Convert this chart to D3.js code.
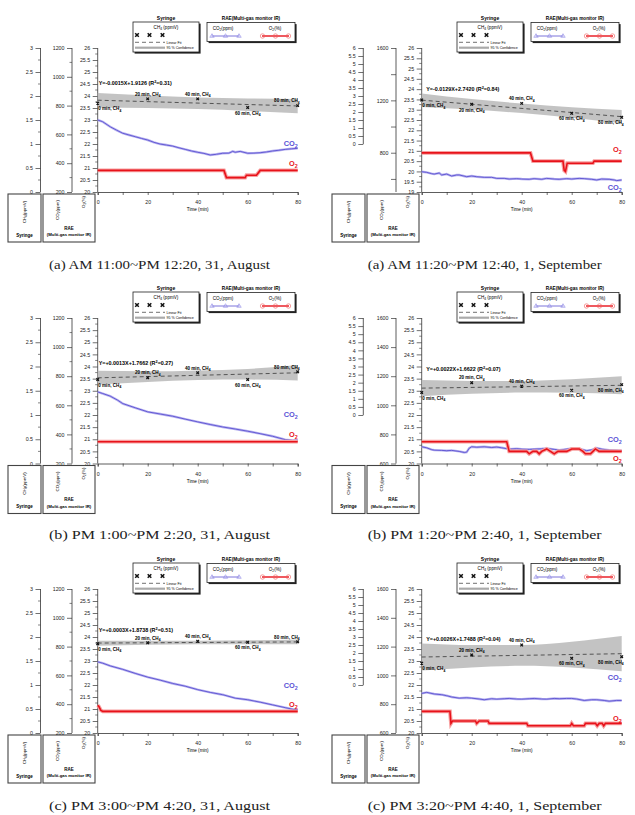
<!DOCTYPE html>
<html><head><meta charset="utf-8">
<script src="https://cdn.jsdelivr.net/npm/d3@7"></script>
<style>body{margin:0;background:#fff}svg{display:block}</style>
</head><body>
<svg id="chart" width="635" height="815"></svg>
<script>
// ---------------- DATA ----------------
const panelIds = ["a_aug","a_sep","b_aug","b_sep","c_aug","c_sep"];
const captions = [
  "(a) AM 11:00~PM 12:20, 31, August",
  "(a) AM 11:20~PM 12:40, 1, September",
  "(b) PM 1:00~PM 2:20, 31, August",
  "(b) PM 1:20~PM 2:40, 1, September",
  "(c) PM 3:00~PM 4:20, 31, August",
  "(c) PM 3:20~PM 4:40, 1, September"
];
const timeDomain = [0, 80];
const timeTicks = [0,10,20,30,40,50,60,70,80];
const timeTickLabels = [0,20,40,60,80];

const ch4Times = [0,20,40,60,80];
const ch4_a_aug = [1.85, 1.94, 1.94, 1.76, 1.80];
const ch4_a_sep = [2.75, 2.48, 2.54, 1.92, 1.67];
const ch4_b_aug = [1.73, 1.77, 1.87, 1.73, 1.89];
const ch4_b_sep = [1.39, 2.00, 1.78, 1.53, 1.88];
const ch4_c_aug = [1.86, 1.88, 1.91, 1.89, 1.90];
const ch4_c_sep = [1.36, 1.88, 2.50, 1.67, 1.77];
const ch4Values = [ch4_a_aug, ch4_a_sep, ch4_b_aug, ch4_b_sep, ch4_c_aug, ch4_c_sep];

const fitSlope = [-0.0015, -0.0129, 0.0013, 0.0022, 0.0003, 0.0026];
const fitIntercept = [1.9126, 2.7420, 1.7662, 1.6622, 1.8738, 1.7488];
const fitLabels = ["Y=-0.0015X+1.9126","Y=-0.0129X+2.7420","Y=+0.0013X+1.7662","Y=+0.0022X+1.6622","Y=+0.0003X+1.8738","Y=+0.0026X+1.7488"];
const fitR2 = ["0.31","0.84","0.27","0.07","0.51","0.04"];

// 95% confidence band (CH4 units) at ch4Times
const bandUpper = [
  [2.06, 2.01, 1.97, 1.95, 1.94],
  [3.16, 2.81, 2.53, 2.30, 2.13],
  [1.91, 1.90, 1.92, 1.95, 2.03],
  [2.16, 2.11, 2.11, 2.21, 2.39],
  [1.92, 1.92, 1.92, 1.93, 1.95],
  [2.60, 2.50, 2.50, 2.70, 3.06]
];
const bandLower = [
  [1.76, 1.75, 1.73, 1.69, 1.64],
  [2.32, 2.15, 1.93, 1.64, 1.29],
  [1.63, 1.68, 1.72, 1.73, 1.71],
  [1.16, 1.31, 1.39, 1.37, 1.29],
  [1.82, 1.84, 1.85, 1.85, 1.85],
  [0.90, 1.10, 1.20, 1.10, 0.86]
];

// CO2 (ppm) [time, value]
const co2_a_aug = [[0,700],[2,688],[5,653],[7.5,630],[10,608],[12.5,596],[15,584],[17.5,572],[20,561],[22.5,545],[25,533],[27.5,526],[30,519],[32.5,507],[35,496],[37.5,485],[40,476],[42.5,468],[45,457],[47.5,462],[50,469],[52.5,470],[54,482],[55,476],[57,482],[60,469],[62.5,470],[65,473],[67.5,478],[70,485],[72.5,490],[75,496],[77.5,500],[80,503]];
const co2_a_sep = [[0,655],[2,650],[4,640],[5,637],[7,645],[8,630],[10,637],[12,622],[14,630],[15,630],[18,617],[20,622],[22,617],[25,612],[28,612],[30,604],[33,604],[35,599],[38,602],[40,599],[43,597],[45,602],[48,597],[50,604],[53,599],[55,597],[58,602],[60,599],[63,604],[65,602],[68,597],[70,592],[72,599],[75,597],[77,592],[78,587],[80,592]];
const co2_b_aug = [[0,692],[2,681],[5,663],[8,635],[10,612],[15,583],[20,555],[25,540],[30,525],[35,505],[40,486],[45,468],[50,451],[55,437],[60,422],[65,405],[70,387],[75,364],[78,358],[80,360]];
const co2_b_sep = [[0,715],[2,708],[4,695],[5,692],[8,690],[10,688],[12,690],[15,683],[17,676],[18,678],[19,705],[20,715],[22,712],[25,715],[28,710],[30,713],[32,708],[35,699],[38,702],[40,699],[43,697],[45,699],[48,701],[50,704],[53,697],[55,692],[58,699],[60,704],[62,702],[64,697],[66,688],[68,694],[70,706],[72,699],[75,692],[78,690],[80,688]];
const co2_c_aug = [[0,694],[2,685],[5,666],[10,642],[15,614],[20,588],[25,567],[30,544],[35,525],[40,501],[45,482],[50,466],[55,442],[60,431],[65,414],[70,395],[75,376],[78,365],[80,362]];
const co2_c_sep = [[0,875],[2,882],[5,871],[8,866],[10,859],[12,850],[15,842],[18,845],[20,842],[23,836],[25,831],[28,838],[30,835],[33,838],[35,840],[38,836],[40,835],[43,838],[45,840],[48,836],[50,835],[53,840],[55,838],[58,840],[60,840],[62,836],[65,826],[68,831],[70,831],[73,826],[75,821],[78,826],[80,826]];
const co2Series = [co2_a_aug, co2_a_sep, co2_b_aug, co2_b_sep, co2_c_aug, co2_c_sep];

// O2 (%) [time, value]
const o2_a_aug = [[0,20.9],[50.5,20.9],[51.5,20.6],[59,20.6],[59.5,20.7],[63.5,20.7],[65,20.9],[80,20.9]];
const o2_a_sep = [[0,20.9],[43.5,20.9],[44.5,20.5],[56.5,20.5],[57,20.05],[57.5,20.0],[58.2,20.4],[68.5,20.4],[69,20.5],[80,20.5]];
const o2_b_aug = [[0,20.9],[80,20.9]];
const o2_b_sep = [[0,20.9],[34,20.9],[35,20.5],[42,20.5],[43,20.4],[44.5,20.5],[46,20.5],[47,20.4],[48,20.5],[50,20.6],[51.5,20.5],[53,20.4],[54.5,20.5],[58,20.5],[60,20.6],[63,20.6],[64.5,20.5],[65.5,20.4],[67.5,20.4],[68.5,20.5],[69.5,20.6],[71,20.5],[80,20.5]];
const o2_c_aug = [[0,21.15],[0.5,21.1],[1.2,20.95],[2,20.9],[80,20.9]];
const o2_c_sep = [[0,20.9],[11.3,20.9],[11.7,20.4],[12.3,20.5],[21.5,20.5],[22,20.4],[23,20.5],[26.5,20.5],[27,20.4],[42,20.4],[42.5,20.3],[59.5,20.3],[60,20.4],[60.7,20.3],[65,20.3],[65.5,20.4],[69.5,20.4],[70.2,20.3],[71,20.4],[72.2,20.4],[72.8,20.3],[73.5,20.4],[80,20.4]];
const o2Series = [o2_a_aug, o2_a_sep, o2_b_aug, o2_b_sep, o2_c_aug, o2_c_sep];

// axis domains and tick labels
const ch4Domain = [[0,3],[-3,6]];
const ch4Ticks = [[0,0.5,1,1.5,2,2.5,3],[0,0.5,1,1.5,2,2.5,3,3.5,4,4.5,5,5.5,6]];
const ch4Minor = [[0.25,0.75,1.25,1.75,2.25,2.75],[]];
const co2Domain = [[200,1200],[500,1600],[200,1200],[600,1600],[200,1200],[600,1600]];
const co2Ticks = [[200,400,600,800,1000,1200],[600,800,1000,1200,1400,1600],[200,400,600,800,1000,1200],[600,800,1000,1200,1400,1600],[200,400,600,800,1000,1200],[600,800,1000,1200,1400,1600]];
const co2TickLabels = [[200,400,600,800,1000,1200],[800,1200,1600],[200,400,600,800,1000,1200],[600,800,1000,1200,1400,1600],[200,400,600,800,1000,1200],[600,800,1000,1200,1400,1600]];
const co2Minor = [[300,500,700,900,1100],[],[300,500,700,900,1100],[],[300,500,700,900,1100],[]];
const o2Domain = [[20,26],[19,26],[20,26],[20,26],[20,26],[20,26]];
const o2Ticks = [
  [20,20.5,21,21.5,22,22.5,23,23.5,24,24.5,25,25.5,26],
  [19,19.5,20,20.5,21,21.5,22,22.5,23,23.5,24,24.5,25,25.5,26],
  [20,20.5,21,21.5,22,22.5,23,23.5,24,24.5,25,25.5,26],
  [20,20.5,21,21.5,22,22.5,23,23.5,24,24.5,25,25.5,26],
  [20,20.5,21,21.5,22,22.5,23,23.5,24,24.5,25,25.5,26],
  [20,20.5,21,21.5,22,22.5,23,23.5,24,24.5,25,25.5,26]
];

// ---------------- LAYOUT ----------------
const FONT = "'Liberation Sans', Arial, Helvetica, sans-serif";
const rowOffsets = [0, 270, 541];
const rowHeights = [144, 145.5, 144];
const colOffsets = [0, 324];
const ch4LabelSide = [["b","a","a","b","a"],["b","b","a","b","b"],["b","a","a","b","a"],["b","a","a","b","b"],["b","a","a","b","a"],["b","a","a","b","b"]];
const regLabelDy = [37, 43, 47, 53, 43, 52];
const co2LabelDy = [98, 142, 99, 124, 99, 91];
const o2LabelDy = [118, 103.5, 119, 142.5, 117.5, 132];
const captionWidth = [221, 234];

const BLUE = "#5a50d0", BLUE_H = "#b9b4f0", RED = "#e8121a", RED_H = "#f7a0a0";

const svg = d3.select("#chart");

function rich(parent, x, y, segs, fs, attrs) {
  const t = parent.append("text").attr("x", x).attr("y", y)
    .attr("font-size", fs).attr("font-family", FONT);
  Object.entries(attrs || {}).forEach(([k, v]) => t.attr(k, v));
  let cur = 0;
  segs.forEach(s => {
    const [str, mode] = Array.isArray(s) ? s : [s, null];
    const target = mode === "sub" ? fs * 0.3 : mode === "sup" ? -fs * 0.4 : 0;
    const ts = t.append("tspan").text(str).attr("font-size", mode ? fs * 0.72 : fs);
    if (target !== cur) ts.attr("dy", target - cur);
    cur = target;
  });
  return t;
}

function yAxis(g, scale, xPos, ticks, labels, minor, from, to) {
  const ax = g.append("g").attr("transform", `translate(${xPos},0)`);
  ax.call(d3.axisLeft(scale).tickValues(ticks).tickSize(5).tickPadding(2.5)
    .tickFormat(d => labels.includes(d) ? String(d) : ""));
  ax.select(".domain").remove();
  ax.selectAll(".tick line").attr("stroke", "#333").attr("stroke-width", 0.7);
  ax.selectAll(".tick text").attr("font-size", 5.3).attr("font-family", FONT).attr("fill", "#222");
  ax.selectAll("line.minor").data(minor).enter().append("line").attr("class", "minor")
    .attr("x1", -2.5).attr("x2", 0).attr("y1", d => scale(d)).attr("y2", d => scale(d))
    .attr("stroke", "#333").attr("stroke-width", 0.6);
  ax.append("line").attr("x1", 0).attr("x2", 0).attr("y1", scale(from)).attr("y2", scale(to))
    .attr("stroke", "#333").attr("stroke-width", 0.8);
}

function crossPath(cx, cy, r) {
  return `M${cx - r},${cy - r}L${cx + r},${cy + r}M${cx - r},${cy + r}L${cx + r},${cy - r}`;
}

function legend(g, ox, oy) {
  const sx = 133 + ox, sy = 22 + oy, sw = 66, sh = 30;
  g.append("text").attr("x", sx + sw / 2).attr("y", sy - 2.3).attr("text-anchor", "middle")
    .attr("font-size", 5).attr("font-weight", "bold").attr("font-family", FONT).text("Syringe");
  g.append("rect").attr("x", sx + 1.6).attr("y", sy + 1.6).attr("width", sw).attr("height", sh).attr("fill", "#222");
  g.append("rect").attr("x", sx).attr("y", sy).attr("width", sw).attr("height", sh)
    .attr("fill", "#fff").attr("stroke", "#222").attr("stroke-width", 0.8);
  rich(g, sx + sw / 2, sy + 6.5, ["CH", ["4", "sub"], " (ppmV)"], 4.6, {"text-anchor": "middle"});
  [sx + 4, sx + 16.5, sx + 29.5].forEach(cx => g.append("path").attr("d", crossPath(cx, sy + 13, 1.8))
    .attr("stroke", "#111").attr("stroke-width", 1.5));
  g.append("line").attr("x1", sx + 2).attr("x2", sx + 32).attr("y1", sy + 20.3).attr("y2", sy + 20.3)
    .attr("stroke", "#333").attr("stroke-width", 0.7).attr("stroke-dasharray", "4,3");
  g.append("text").attr("x", sx + 33.5).attr("y", sy + 21.6).attr("font-size", 3.6).attr("font-family", FONT).text("Linear Fit");
  g.append("line").attr("x1", sx + 2).attr("x2", sx + 32).attr("y1", sy + 25.7).attr("y2", sy + 25.7)
    .attr("stroke", "#aaa").attr("stroke-width", 2.2);
  g.append("text").attr("x", sx + 33.5).attr("y", sy + 27).attr("font-size", 3.6).attr("font-family", FONT).text("95 % Confidence");

  const rx = 207 + ox, ry = 22.5 + oy, rw = 88, rh = 19;
  g.append("text").attr("x", rx + rw / 2).attr("y", ry - 2.8).attr("text-anchor", "middle")
    .attr("font-size", 4.7).attr("font-weight", "bold").attr("font-family", FONT).text("RAE(Multi-gas monitor IR)");
  g.append("rect").attr("x", rx + 1.6).attr("y", ry + 1.6).attr("width", rw).attr("height", rh).attr("fill", "#222");
  g.append("rect").attr("x", rx).attr("y", ry).attr("width", rw).attr("height", rh)
    .attr("fill", "#fff").attr("stroke", "#222").attr("stroke-width", 0.8);
  rich(g, rx + 16, ry + 7, ["CO", ["2", "sub"], "(ppm)"], 4.6, {"text-anchor": "middle"});
  g.append("line").attr("x1", rx + 4.5).attr("x2", rx + 32.5).attr("y1", ry + 13.5).attr("y2", ry + 13.5)
    .attr("stroke", BLUE).attr("stroke-width", 0.8);
  [rx + 5, rx + 18.5, rx + 32].forEach(cx => g.append("path")
    .attr("d", `M${cx},${ry + 11.2}L${cx + 2.2},${ry + 14.8}L${cx - 2.2},${ry + 14.8}Z`)
    .attr("fill", "none").attr("stroke", "#8d86e6").attr("stroke-width", 0.6));
  rich(g, rx + 68, ry + 7, ["O", ["2", "sub"], "(%)"], 4.6, {"text-anchor": "middle"});
  g.append("line").attr("x1", rx + 55).attr("x2", rx + 82).attr("y1", ry + 13.5).attr("y2", ry + 13.5)
    .attr("stroke", RED).attr("stroke-width", 1.4);
  [rx + 55.5, rx + 68.5, rx + 81.5].forEach(cx => g.append("circle").attr("cx", cx).attr("cy", ry + 13.5).attr("r", 2.2)
    .attr("fill", "none").attr("stroke", "#f05a5a").attr("stroke-width", 0.6));
}

function bottomBoxes(g, ox, yB) {
  const y = yB + 2, h = 48;
  [[8, 33], [43, 52]].forEach(([bx, bw]) => g.append("rect").attr("x", bx + ox).attr("y", y).attr("width", bw).attr("height", h)
    .attr("fill", "none").attr("stroke", "#444").attr("stroke-width", 1.1));
  const rot = (cx, cy, segs) => {
    const gg = g.append("g").attr("transform", `translate(${cx},${cy}) rotate(-90)`);
    rich(gg, 0, 1.5, segs, 4.4, {"text-anchor": "middle"});
  };
  rot(24.5 + ox, y + 18, ["CH", ["4", "sub"], "(ppmV)"]);
  rot(57.3 + ox, y + 16, ["CO", ["2", "sub"], "(ppm)"]);
  rot(83 + ox, y + 8, ["O", ["2", "sub"], "(%)"]);
  g.append("text").attr("x", 24.5 + ox).attr("y", y + 42.5).attr("text-anchor", "middle").attr("font-size", 4.5)
    .attr("font-weight", "bold").attr("font-family", FONT).text("Syringe");
  g.append("text").attr("x", 69 + ox).attr("y", y + 35.8).attr("text-anchor", "middle").attr("font-size", 4.5)
    .attr("font-weight", "bold").attr("font-family", FONT).text("RAE");
  g.append("text").attr("x", 69 + ox).attr("y", y + 42.2).attr("text-anchor", "middle").attr("font-size", 4.3)
    .attr("font-weight", "bold").attr("font-family", FONT).text("(Multi-gas monitor IR)");
}

panelIds.forEach((id, i) => {
  const row = Math.floor(i / 2), col = i % 2;
  const ox = colOffsets[col], oy = rowOffsets[row];
  const yTop = 48 + oy, yBot = yTop + rowHeights[row];
  const x0 = 97.7 + ox, x1 = x0 + 200;
  const g = svg.append("g").attr("class", "panel-" + id);

  const x = d3.scaleLinear().domain(timeDomain).range([x0, x1]);
  const yCH4 = d3.scaleLinear().domain(ch4Domain[col]).range([yBot, yTop]);
  const yCO2 = d3.scaleLinear().domain(co2Domain[i]).range([yBot, yTop]);
  const yO2 = d3.scaleLinear().domain(o2Domain[i]).range([yBot, yTop]);

  legend(g, ox, oy);

  // axes
  yAxis(g, yCH4, 40.5 + ox - (col ? 1.2 : 0), ch4Ticks[col], ch4Ticks[col], ch4Minor[col], 0, ch4Domain[col][1]);
  yAxis(g, yCO2, 72 + ox, co2Ticks[i], co2TickLabels[i], co2Minor[i], co2Domain[i][0], co2Domain[i][1]);
  const o2t = o2Ticks[i];
  const o2Minor = o2t.slice(1).map((d, k) => (d + o2t[k]) / 2);
  yAxis(g, yO2, x0, o2t, o2t, o2Minor, o2Domain[i][0], o2Domain[i][1]);

  const xa = g.append("g").attr("transform", `translate(0,${yBot})`);
  xa.call(d3.axisBottom(x).tickValues(timeTicks).tickSize(3).tickPadding(5.5)
    .tickFormat(d => timeTickLabels.includes(d) ? String(d) : ""));
  xa.select(".domain").attr("stroke", "#333").attr("stroke-width", 0.8);
  xa.selectAll(".tick line").attr("stroke", "#333").attr("stroke-width", 0.7);
  xa.selectAll(".tick text").attr("font-size", 5.2).attr("font-family", FONT).attr("fill", "#222");
  g.append("text").attr("x", (x0 + x1) / 2).attr("y", yBot + 19).attr("text-anchor", "middle")
    .attr("font-size", 4.6).attr("font-family", FONT).text("Time (min)");

  // confidence band
  const bandData = ch4Times.map((t, k) => ({t, lo: bandLower[i][k], hi: bandUpper[i][k]}));
  g.append("path").datum(bandData)
    .attr("d", d3.area().x(d => x(d.t)).y0(d => yCH4(d.lo)).y1(d => yCH4(d.hi)).curve(d3.curveMonotoneX))
    .attr("fill", "#bdbdbd").attr("opacity", 0.9);

  // CO2 line
  const lineCO2 = d3.line().x(d => x(d[0])).y(d => yCO2(d[1]));
  g.append("path").datum(co2Series[i]).attr("d", lineCO2).attr("fill", "none").attr("stroke", BLUE_H).attr("stroke-width", 2.4);
  g.append("path").datum(co2Series[i]).attr("d", lineCO2).attr("fill", "none").attr("stroke", BLUE).attr("stroke-width", 0.9);

  // O2 line
  const lineO2 = d3.line().x(d => x(d[0])).y(d => yO2(d[1]));
  g.append("path").datum(o2Series[i]).attr("d", lineO2).attr("fill", "none").attr("stroke", RED_H).attr("stroke-width", 3.8);
  g.append("path").datum(o2Series[i]).attr("d", lineO2).attr("fill", "none").attr("stroke", RED).attr("stroke-width", 1.6);

  // regression line
  g.append("path").datum(timeDomain)
    .attr("d", d3.line().x(t => x(t)).y(t => yCH4(fitIntercept[i] + fitSlope[i] * t)))
    .attr("fill", "none").attr("stroke", "#222").attr("stroke-width", 0.7).attr("stroke-dasharray", "4,3");

  // CH4 points and labels
  ch4Times.forEach((t, k) => {
    const px = x(t), py = yCH4(ch4Values[i][k]);
    g.append("path").attr("d", crossPath(px, py, 1.3)).attr("stroke", "#111").attr("stroke-width", 1.2);
    const side = ch4LabelSide[i][k];
    const ly = side === "a" ? py - 3.2 : py + 7.2;
    const anchor = k === 0 ? "start" : k === 4 ? "end" : "middle";
    const lx = k === 0 ? px + 0.5 : k === 4 ? px + 2 : px;
    rich(g, lx, ly, [t + " min, CH", ["4", "sub"]], 4.6, {"text-anchor": anchor, "font-weight": "bold"});
  });

  // regression equation
  rich(g, x0 + (col ? 4.5 : 1), yTop + regLabelDy[i],
    [fitLabels[i] + " (R", ["2", "sup"], "=" + fitR2[i] + ")"], 5.4, {"font-weight": "bold"});

  // series labels
  rich(g, x1, yTop + co2LabelDy[i], ["CO", ["2", "sub"]], 7.4, {"text-anchor": "end", "fill": "#5b52d6", "font-weight": "bold"});
  rich(g, x1, yTop + o2LabelDy[i], ["O", ["2", "sub"]], 7.4, {"text-anchor": "end", "fill": RED, "font-weight": "bold"});

  bottomBoxes(g, ox, yBot);

  // caption
  const cx = col ? 484.7 : 159.5;
  g.append("text").attr("x", cx).attr("y", oy + 268.5).attr("text-anchor", "middle")
    .attr("font-family", "'Liberation Serif', 'DejaVu Serif', serif").attr("font-size", 13.5)
    .attr("textLength", captionWidth[col]).attr("lengthAdjust", "spacingAndGlyphs")
    .attr("fill", "#222").text(captions[i]);
});
</script>
</body></html>
